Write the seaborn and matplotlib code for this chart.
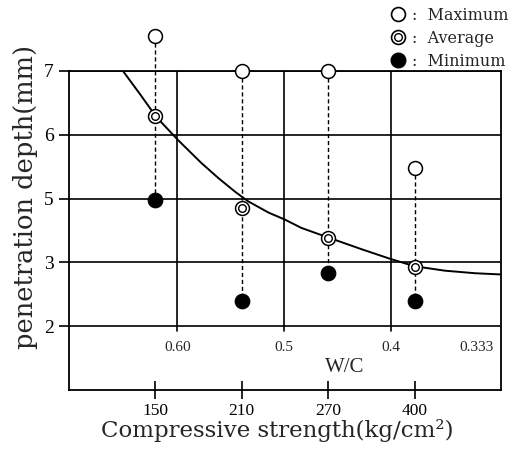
import numpy as np
import matplotlib
matplotlib.use('Agg')
import matplotlib.pyplot as plt
from matplotlib.lines import Line2D
import seaborn as sns

# compressive strength categories (kg/cm2), drawn at equal spacing
strength = ['150', '210', '270', '400']
pos = np.arange(len(strength))

# penetration depth (in the axis' own grid units)
depth_max = [7.55, 7.00, 7.00, 5.48]
depth_avg = [6.30, 4.86, 4.38, 3.93]
depth_min = [4.98, 3.39, 3.84, 3.40]

# fitted curve, read point by point
curve_x = [-0.37, -0.18, 0.01, 0.26, 0.53, 0.73, 0.92, 1.07, 1.31, 1.50, 1.69,
           2.00, 2.40, 2.73, 3.00, 3.35, 3.70, 4.01]
curve_y = [6.99, 6.64, 6.28, 5.92, 5.56, 5.32, 5.11, 4.96, 4.78, 4.67, 4.54,
           4.39, 4.20, 4.05, 3.94, 3.87, 3.83, 3.81]

# y ticks as printed in the figure
y_ticks = [3, 4, 5, 6, 7]
y_labels = ['2', '3', '5', '6', '7']

# W/C secondary scale
wc_labels = ['0.60', '0.5', '0.4', '0.333']
wc_pos = [0.255, 1.49, 2.73, 3.72]

sns.set_style('white')
plt.rcParams['font.family'] = ['Liberation Serif', 'DejaVu Serif']

fig = plt.figure(figsize=(5.17, 4.51), dpi=100)
ax = fig.add_axes([0.1335, 0.1353, 0.8355, 0.7073])

# dashed range lines
for x, hi, lo in zip(pos, depth_max, depth_min):
    ax.plot([x, x], [hi, lo], ls=(0, (3, 2)), color='black', lw=1.0,
            clip_on=False, zorder=2)

sns.lineplot(x=curve_x, y=curve_y, color='black', lw=1.4, sort=False,
             estimator=None, ax=ax, zorder=3)

sns.scatterplot(x=pos, y=depth_max, marker='o', s=100, facecolor='white',
                edgecolor='black', linewidth=1.1, ax=ax, clip_on=False, zorder=4)
sns.scatterplot(x=pos, y=depth_avg, marker='o', s=100, facecolor='white',
                edgecolor='black', linewidth=1.1, ax=ax, clip_on=False, zorder=4)
sns.scatterplot(x=pos, y=depth_avg, marker='o', s=30, facecolor='white',
                edgecolor='black', linewidth=1.0, ax=ax, clip_on=False, zorder=5)
sns.scatterplot(x=pos, y=depth_min, marker='o', s=110, color='black',
                edgecolor='black', ax=ax, clip_on=False, zorder=4)

ax.set_xlim(-1, 4)
ax.set_ylim(2, 7)

# horizontal grid
ax.set_yticks(y_ticks)
ax.set_yticklabels(y_labels, fontsize=14)
ax.yaxis.grid(True, color='black', lw=1.2)
ax.tick_params(axis='y', direction='out', length=7, width=1.2, left=True,
               pad=4, colors='black')

# vertical W/C grid lines
for x in wc_pos[:3]:
    ax.axvline(x, ymin=0.185, ymax=1, color='black', lw=1.2, zorder=1)
for x, lab in zip(wc_pos, wc_labels):
    ax.text(x, 2.67, lab, ha='center', va='center', fontsize=11)
ax.text(2.19, 2.36, 'W/C', ha='center', va='center', fontsize=15)

ax.set_xticks(pos)
ax.set_xticklabels(strength, fontsize=12.5)
ax.tick_params(axis='x', direction='inout', length=13, width=1.2, bottom=True,
               pad=3, colors='black')

for s in ax.spines.values():
    s.set_color('black')
    s.set_linewidth(1.3)

ax.set_ylabel('penetration depth(mm)', fontsize=18.5, family=['DejaVu Serif'])
ax.yaxis.set_label_coords(-0.072, 0.605)
ax.set_xlabel('Compressive strength(kg/cm²)', fontsize=16.5, family=['DejaVu Serif'])
ax.xaxis.set_label_coords(0.481, -0.092)

h_max = Line2D([], [], marker='o', ms=10, mfc='white', mec='black', mew=1.2, ls='')
h_avg_o = Line2D([], [], marker='o', ms=10, mfc='white', mec='black', mew=1.2, ls='')
h_avg_i = Line2D([], [], marker='o', ms=5.5, mfc='white', mec='black', mew=1.0, ls='')
h_min = Line2D([], [], marker='o', ms=10.5, mfc='black', mec='black', ls='')
fig.legend([h_max, (h_avg_o, h_avg_i), h_min],
           [':  Maximum', ':  Average', ':  Minimum'],
           loc='upper right', bbox_to_anchor=(1.003, 1.008), frameon=False,
           prop={'family': 'DejaVu Serif', 'size': 11.5},
           handlelength=1.2, handletextpad=0.25, labelspacing=0.38,
           borderpad=0.15)

fig.savefig('out.png', dpi=100)
